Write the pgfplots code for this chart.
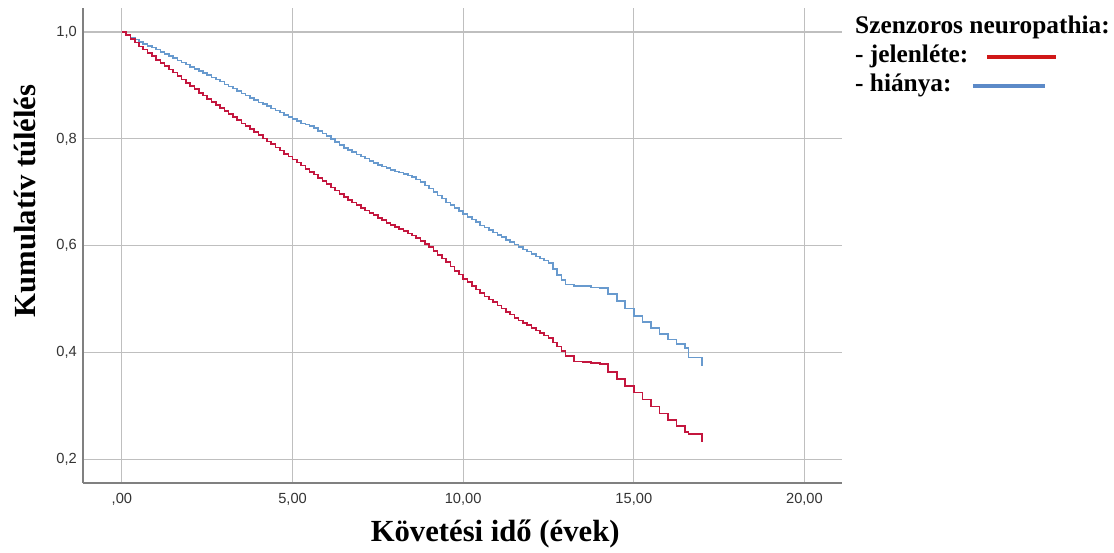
\documentclass[border=0pt]{standalone}
\usepackage{fontspec}
\setmainfont{Liberation Serif}
\setsansfont{Liberation Sans}
\usepackage{pgfplots}
\pgfplotsset{compat=1.18}

\definecolor{kmred}{RGB}{196,22,62}
\definecolor{kmblue}{RGB}{104,154,206}
\definecolor{legred}{RGB}{208,24,24}
\definecolor{legblue}{RGB}{92,138,200}

\begin{document}
\begin{tikzpicture}
\begin{axis}[
    scale only axis,
    width=569pt,
    height=356pt,
    xmin=-1.14, xmax=21.1,
    ymin=0.156, ymax=1.045,
    enlargelimits=false,
    clip=false,
    axis x line*=bottom,
    axis y line*=left,
    axis line style={-, draw=black!50, line width=1.3pt},
    xtick={0,5,10,15,20},
    xticklabels={{,00},{5,00},{10,00},{15,00},{20,00}},
    ytick={0.2,0.4,0.6,0.8,1.0},
    yticklabels={{0,2},{0,4},{0,6},{0,8},{1,0}},
    tick style={draw=none},
    xmajorgrids, ymajorgrids,
    grid style={black!25, line width=0.8pt},
    ticklabel style={font=\sffamily\fontsize{11}{13}\selectfont, text=black!80, inner sep=0pt},
    xticklabel style={anchor=north},
    xticklabel shift=7.5pt,
    yticklabel style={anchor=east},
    yticklabel shift=4.5pt,
    xlabel={\textbf{Követési idő (évek)}},
    ylabel={\textbf{Kumulatív túlélés}},
    label style={font=\fontsize{23}{26}\selectfont},
    xlabel style={at={(axis description cs:0.543,-0.107)}, anchor=center},
    ylabel style={at={(axis description cs:-0.0765,0.594)}, anchor=center},
]
\addplot[const plot, no marks, color=kmblue, line width=1.2pt] coordinates {
(0,1.000) (0.125,0.995) (0.25,0.990) (0.375,0.986) (0.5,0.981) (0.625,0.978)
(0.75,0.974) (0.875,0.971) (1.0,0.967) (1.125,0.963) (1.25,0.959) (1.375,0.955)
(1.5,0.951) (1.625,0.947) (1.75,0.943) (1.875,0.939) (2.0,0.935) (2.125,0.931)
(2.25,0.927) (2.375,0.923) (2.5,0.919) (2.625,0.915) (2.75,0.911) (2.875,0.907)
(3.0,0.902) (3.125,0.898) (3.25,0.894) (3.375,0.890) (3.5,0.885) (3.625,0.881)
(3.75,0.877) (3.875,0.873) (4.0,0.868) (4.125,0.865) (4.25,0.861) (4.375,0.857)
(4.5,0.853) (4.625,0.849) (4.75,0.845) (4.875,0.841) (5.0,0.837) (5.125,0.833)
(5.25,0.829) (5.375,0.827) (5.5,0.824) (5.625,0.820) (5.75,0.815) (5.875,0.810)
(6.0,0.805) (6.125,0.800) (6.25,0.794) (6.375,0.789) (6.5,0.783) (6.625,0.779)
(6.75,0.775) (6.875,0.771) (7.0,0.767) (7.125,0.763) (7.25,0.759) (7.375,0.755)
(7.5,0.751) (7.625,0.748) (7.75,0.745) (7.875,0.742) (8.0,0.739) (8.125,0.737)
(8.25,0.734) (8.375,0.731) (8.5,0.728) (8.625,0.724) (8.75,0.719) (8.875,0.713)
(9.0,0.707) (9.125,0.701) (9.25,0.694) (9.375,0.688) (9.5,0.681) (9.625,0.676)
(9.75,0.670) (9.875,0.665) (10.0,0.659) (10.125,0.654) (10.25,0.649) (10.375,0.644)
(10.5,0.638) (10.625,0.634) (10.75,0.629) (10.875,0.625) (11.0,0.620) (11.125,0.616)
(11.25,0.611) (11.375,0.607) (11.5,0.602) (11.625,0.598) (11.75,0.593) (11.875,0.589)
(12.0,0.584) (12.125,0.580) (12.25,0.576) (12.375,0.572) (12.5,0.567) (12.625,0.556)
(12.75,0.545) (12.875,0.536) (13.0,0.527) (13.25,0.525)
(13.5,0.524) (13.75,0.522) (14.0,0.521) (14.25,0.510) (14.5,0.496) (14.75,0.482)
(15.0,0.468) (15.25,0.457) (15.5,0.446) (15.75,0.435) (16.0,0.424) (16.25,0.416)
(16.5,0.408) (16.6,0.391) (17.0,0.375)
};
\addplot[const plot, no marks, color=kmred, line width=1.2pt] coordinates {
(0,1.000) (0.125,0.994) (0.25,0.987) (0.375,0.980) (0.5,0.973) (0.625,0.967)
(0.75,0.961) (0.875,0.955) (1.0,0.948) (1.125,0.942) (1.25,0.936) (1.375,0.930)
(1.5,0.924) (1.625,0.918) (1.75,0.911) (1.875,0.905) (2.0,0.899) (2.125,0.893)
(2.25,0.886) (2.375,0.881) (2.5,0.875) (2.625,0.869) (2.75,0.863) (2.875,0.858)
(3.0,0.852) (3.125,0.847) (3.25,0.841) (3.375,0.835) (3.5,0.829) (3.625,0.824)
(3.75,0.818) (3.875,0.813) (4.0,0.807) (4.125,0.801) (4.25,0.795) (4.375,0.790)
(4.5,0.784) (4.625,0.778) (4.75,0.772) (4.875,0.767) (5.0,0.761) (5.125,0.756)
(5.25,0.750) (5.375,0.744) (5.5,0.738) (5.625,0.733) (5.75,0.727) (5.875,0.721)
(6.0,0.715) (6.125,0.709) (6.25,0.703) (6.375,0.697) (6.5,0.691) (6.625,0.686)
(6.75,0.681) (6.875,0.676) (7.0,0.671) (7.125,0.666) (7.25,0.661) (7.375,0.657)
(7.5,0.652) (7.625,0.648) (7.75,0.643) (7.875,0.639) (8.0,0.635) (8.125,0.631)
(8.25,0.627) (8.375,0.623) (8.5,0.619) (8.625,0.614) (8.75,0.609) (8.875,0.603)
(9.0,0.597) (9.125,0.590) (9.25,0.583) (9.375,0.576) (9.5,0.569) (9.625,0.561)
(9.75,0.553) (9.875,0.546) (10.0,0.538) (10.125,0.532) (10.25,0.525) (10.375,0.518)
(10.5,0.511) (10.625,0.505) (10.75,0.499) (10.875,0.494) (11.0,0.488) (11.125,0.482)
(11.25,0.476) (11.375,0.471) (11.5,0.465) (11.625,0.460) (11.75,0.455) (11.875,0.451)
(12.0,0.446) (12.125,0.441) (12.25,0.436) (12.375,0.432) (12.5,0.427) (12.625,0.419)
(12.75,0.411) (12.875,0.403) (13.0,0.394) (13.25,0.383)
(13.5,0.382) (13.75,0.380) (14.0,0.378) (14.25,0.364) (14.5,0.350) (14.75,0.337)
(15.0,0.325) (15.25,0.312) (15.5,0.299) (15.75,0.286) (16.0,0.274) (16.25,0.262)
(16.5,0.251) (16.6,0.247) (17.0,0.232)
};
% legend, set beside the plot area as in the original
\node[anchor=base west, inner sep=0pt, font=\bfseries\fontsize{19}{22}\selectfont]
  at (axis description cs:1.017,0.947) {Szenzoros neuropathia:};
\node[anchor=base west, inner sep=0pt, font=\bfseries\fontsize{19}{22}\selectfont]
  at (axis description cs:1.017,0.886) {- jelenléte:\hspace{14pt}\textcolor{legred}{\rule[2.6pt]{52pt}{3pt}}};
\node[anchor=base west, inner sep=0pt, font=\bfseries\fontsize{19}{22}\selectfont]
  at (axis description cs:1.017,0.825) {- hiánya:\hspace{16pt}\textcolor{legblue}{\rule[2.6pt]{54pt}{3pt}}};
% page frame matching the original picture
\path (axis description cs:-0.1094,-0.1474) rectangle (axis description cs:1.3584,1.0168);
\end{axis}
\end{tikzpicture}
\end{document}
